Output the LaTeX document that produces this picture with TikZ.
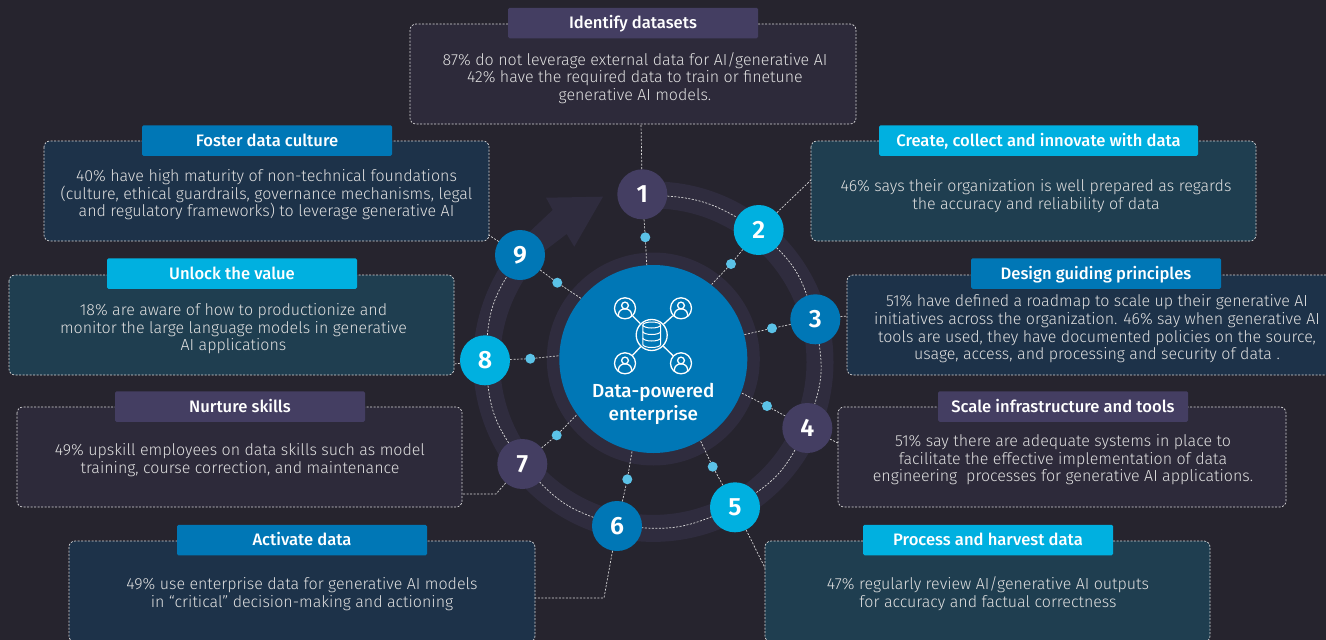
\documentclass[tikz,border=0pt]{standalone}
\usepackage{fontspec}
\setmainfont{Fira Sans Light}[BoldFont={Fira Sans Medium}]
\newfontfamily\numfont{Fira Sans SemiBold}
\usetikzlibrary{positioning}
\definecolor{mbg}{HTML}{26242E}
\definecolor{mring}{HTML}{2F2C3E}
\definecolor{mpurple}{HTML}{443E62}
\definecolor{mblue}{HTML}{0077B6}
\definecolor{mcyan}{HTML}{00B0E0}
\definecolor{mdot}{HTML}{5BC2E7}
\definecolor{mboxgrey}{HTML}{2D2A3A}
\definecolor{mboxnavy}{HTML}{1D3249}
\definecolor{mboxteal}{HTML}{1F3E50}
\tikzset{
  infobox/.style = {draw=white!85!black, dash pattern=on 2pt off 1.5pt, line width=0.7pt, rounded corners=6pt},
  titlebox/.style = {rounded corners=1.5pt, minimum height=30.5pt, text=white, text height=12pt, text depth=1pt,
                     font=\fontsize{16.6}{18}\selectfont\bfseries},
  bodytext/.style = {align=center, text=white!88!black, font=\fontsize{16}{17.6}\selectfont},
  numnode/.style = {circle, minimum size=50pt, inner sep=0pt, text=white,
                    font=\fontsize{25}{25}\numfont},
  spokedot/.style = {circle, fill=mdot, minimum size=10pt, inner sep=0pt},
  dashline/.style = {draw=white!85!black, dash pattern=on 2pt off 1.5pt, line width=0.7pt},
  iconline/.style = {draw=white, line width=1.3pt}
}
\begin{document}
\begin{tikzpicture}[x=1pt, y=-1pt]
    \useasboundingbox [fill=mbg] (0, 0) rectangle (1326, 640);

    % rings
    \draw [mring, line width=27pt] (653.3, 361.7) ++(266:166.7) arc (266:579:166.7);
    \fill [mring] (505, 255) -- (552.7, 210) -- (546, 197.7) -- (603, 196.7) -- (574.3, 246.7) -- (566.7, 234) -- (535, 258) -- cycle;
    \draw [mring, line width=13pt] (653.3, 359) circle (100);

    % boxes
    \draw [infobox, fill=mboxgrey] (410, 24) rectangle (856, 124);
    \draw [infobox, fill=mboxnavy] (44, 141) rectangle (489, 241);
    \draw [infobox, fill=mboxteal] (811, 141) rectangle (1256, 241);
    \draw [infobox, fill=mboxteal] (9, 275) rectangle (454, 375);
    \draw [infobox, fill=mboxnavy] (847, 275) rectangle (1340, 375);
    \draw [infobox, fill=mboxgrey] (17, 407) rectangle (462, 507);
    \draw [infobox, fill=mboxgrey] (838, 407) rectangle (1286, 507);
    \draw [infobox, fill=mboxnavy] (69, 541) rectangle (535, 642);
    \draw [infobox, fill=mboxteal] (765, 541) rectangle (1210, 642);

    % titles
    \node (t1) [titlebox, fill=mpurple, minimum width=250pt] at (633, 23) {Identify datasets};
    \node (t2) [titlebox, fill=mcyan, minimum width=319pt] at (1038.5, 140.5) {Create, collect and innovate with data};
    \node (t3) [titlebox, fill=mblue, minimum width=250pt] at (1096, 273.5) {Design guiding principles};
    \node (t4) [titlebox, fill=mpurple, minimum width=250pt] at (1063, 406.5) {Scale infrastructure and tools};
    \node (t5) [titlebox, fill=mcyan, minimum width=250pt] at (988, 540) {Process and harvest data};
    \node (t6) [titlebox, fill=mblue, minimum width=250pt] at (302, 540) {Activate data};
    \node (t7) [titlebox, fill=mpurple, minimum width=250pt] at (240, 406.5) {Nurture skills};
    \node (t8) [titlebox, fill=mcyan, minimum width=250pt] at (232, 273.5) {Unlock the value};
    \node (t9) [titlebox, fill=mblue, minimum width=250pt] at (267, 140.5) {Foster data culture};

    % texts
    \node (b1) [bodytext] at (635, 78) {87\% do not leverage external data for AI/generative AI\\42\% have the required data to train or finetune\\generative AI models.};
    \node (b2) [bodytext] at (1036, 196) {46\% says their organization is well prepared as regards\\the accuracy and reliability of data};
    \node (b3) [bodytext] at (1097, 329) {51\% have defined a roadmap to scale up their generative AI\\initiatives across the organization. 46\% say when generative AI\\tools are used, they have documented policies on the source,\\usage, access, and processing and security of data .};
    \node (b4) [bodytext] at (1063, 460) {51\% say there are adequate systems in place to\\facilitate the effective implementation of data\\engineering\ \ processes for generative AI applications.};
    \node (b5) [bodytext] at (988, 594) {47\% regularly review AI/generative AI outputs\\for accuracy and factual correctness};
    \node (b6) [bodytext] at (302, 594) {49\% use enterprise data for generative AI models\\in ``critical'' decision-making and actioning};
    \node (b7) [bodytext] at (240, 460) {49\% upskill employees on data skills such as model\\training, course correction, and maintenance};
    \node (b8) [bodytext] at (233.5, 329) {18\% are aware of how to productionize and\\monitor the large language models in generative\\AI applications};
    \node (b9) [bodytext] at (266.5, 195) {40\% have high maturity of non-technical foundations\\(culture, ethical guardrails, governance mechanisms, legal\\and regulatory frameworks) to leverage generative AI};

    % centre
    \node (centre) [circle, fill=mblue, minimum size=188pt, inner sep=0pt] at (653.3, 359) {};
    \node (label) [align=center, text=white, font=\fontsize{18.9}{23}\selectfont\bfseries] at (653.3, 404) {Data-powered\\enterprise};

    % numbered nodes
    \node (n1) [numnode, fill=mpurple] at (642.3, 194.3) {1};
    \node (n2) [numnode, fill=mcyan] at (758.7, 230) {2};
    \node (n3) [numnode, fill=mblue] at (815.3, 319.3) {3};
    \node (n4) [numnode, fill=mpurple] at (807.3, 428) {4};
    \node (n5) [numnode, fill=mcyan] at (735, 507.3) {5};
    \node (n6) [numnode, fill=mblue] at (617, 526) {6};
    \node (n7) [numnode, fill=mpurple] at (522.3, 464) {7};
    \node (n8) [numnode, fill=mcyan] at (485, 360.3) {8};
    \node (n9) [numnode, fill=mblue] at (520, 255) {9};

    % dots on the spokes
    \node (d1) [spokedot] at (645.3, 237.3) {};
    \node (d2) [spokedot] at (731, 264) {};
    \node (d3) [spokedot] at (772, 328.3) {};
    \node (d4) [spokedot] at (767, 406) {};
    \node (d5) [spokedot] at (712.7, 466.7) {};
    \node (d6) [spokedot] at (627.3, 479.3) {};
    \node (d7) [spokedot] at (556.7, 435.3) {};
    \node (d8) [spokedot] at (530.3, 358.7) {};
    \node (d9) [spokedot] at (557.3, 282.7) {};

    \foreach \i/\a in {1/94.5, 2/52, 3/15.9, 4/-21.6, 5/-60.9, 6/257.2, 7/216.8, 8/178.2, 9/140.4} {
      \draw [dashline] (n\i) -- (d\i) -- (centre.\a);
    }

    % dashes round the ring
    \foreach \i/\j in {1/2, 2/3, 3/4, 4/5, 5/6, 6/7, 7/8, 8/9} {
      \draw [dashline] (n\i) to [bend left=13] (n\j);
    }

    % leads to the boxes
    \coordinate (c1) at (641, 124);
    \coordinate (c2) at (811, 180);
    \coordinate (c3) at (847, 316);
    \coordinate (c4) at (838, 443);
    \coordinate (c5) at (765, 568);
    \coordinate (c6) at (535, 598);
    \coordinate (c7) at (462, 494);
    \coordinate (c8) at (454, 364);
    \coordinate (c9) at (488.5, 235);
    \draw [dashline] (n1) -- (c1);
    \draw [dashline] (n2) -- (c2);
    \draw [dashline] (n3) -- (c3);
    \draw [dashline] (n4) -- (c4);
    \draw [dashline] (n5) -- (c5);
    \draw [dashline] (n6) -- (604, 598) -- (c6);
    \draw [dashline] (n7) -- (496, 494) -- (c7);
    \draw [dashline] (n8) -- (c8);
    \draw [dashline] (n9) -- (c9);

    % icon
    \node (db) [circle, iconline, minimum size=31pt, inner sep=0pt] at (651.7, 335) {};
    \foreach \x/\y/\a in {625/308.3/a, 681/308.3/b, 625/363.3/c, 681/363.3/d} {
      \node (u\a) [circle, iconline, minimum size=21pt, inner sep=0pt] at (\x, \y) {};
      \draw [iconline] (db) -- (u\a);
      \draw [iconline] (\x, \y - 2.8) circle (3.4);
      \draw [iconline] (\x - 6.5, \y + 7.5) -- (\x - 6.5, \y + 6) arc (180:360:6.5 and 5.5) -- (\x + 6.5, \y + 7.5);
    }
    \draw [iconline, line width=1pt] (642.8, 325) -- (642.8, 344.5) arc (180:0:8.9 and 3) -- (660.6, 325);
    \draw [iconline, line width=1pt] (651.7, 325) ellipse (8.9 and 3);
    \foreach \y in {331.5, 338} {
      \draw [iconline, line width=1pt] (642.8, \y) arc (180:0:8.9 and 3);
    }
  \end{tikzpicture}
\end{document}
